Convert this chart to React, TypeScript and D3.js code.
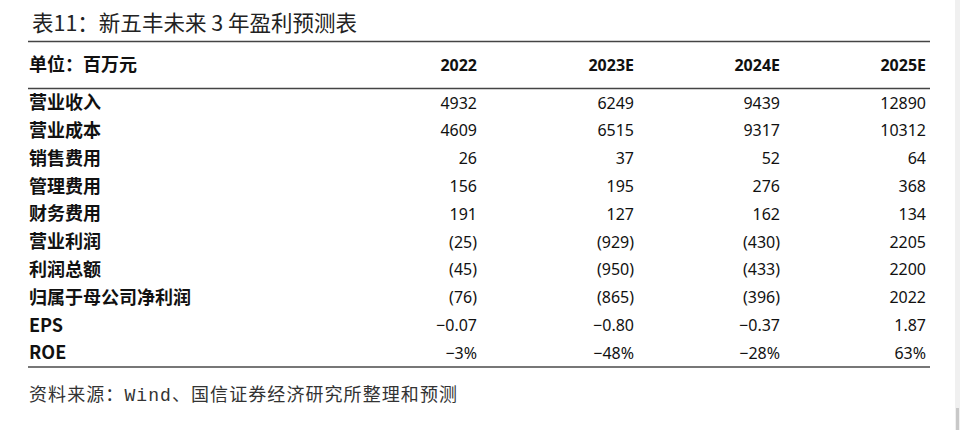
import * as d3 from "d3";
import React from "react";

const title = "表11：新五丰未来 3 年盈利预测表";
const unitLabel = "单位：百万元";
const years = ["2022", "2023E", "2024E", "2025E"];
const rowLabels = [
  "营业收入",
  "营业成本",
  "销售费用",
  "管理费用",
  "财务费用",
  "营业利润",
  "利润总额",
  "归属于母公司净利润",
  "EPS",
  "ROE",
];
const revenue = [4932, 6249, 9439, 12890];
const cost = [4609, 6515, 9317, 10312];
const sellingExp = [26, 37, 52, 64];
const adminExp = [156, 195, 276, 368];
const financeExp = [191, 127, 162, 134];
const opProfit = [-25, -929, -430, 2205];
const totalProfit = [-45, -950, -433, 2200];
const netProfit = [-76, -865, -396, 2022];
const eps = [-0.07, -0.8, -0.37, 1.87];
const roe = [-0.03, -0.48, -0.28, 0.63];
const sourceNote = ["资料来源：", "Wind", "、国信证券经济研究所整理和预测"];

// negatives in brackets, like the report does
const money = (v: number) => (v < 0 ? `(${Math.abs(v)})` : `${v}`);
const fmtEps = (v: number) => d3.format(".2f")(v);
const fmtPct = (v: number) => d3.format(".0%")(v);

const rowValues: string[][] = [
  revenue.map(money),
  cost.map(money),
  sellingExp.map(money),
  adminExp.map(money),
  financeExp.map(money),
  opProfit.map(money),
  totalProfit.map(money),
  netProfit.map(money),
  eps.map(fmtEps),
  roe.map(fmtPct),
];

const W = 960;
const H = 430;
const left = 29;
const right = 930;

export default function App() {
  const y = d3.scaleBand<string>().domain(rowLabels).range([89, 367]);
  const colRight = d3.scaleOrdinal<string, number>().domain(years).range([477, 634, 780, 926]);
  const cjk = "'Noto Sans CJK SC', 'Noto Sans', sans-serif";
  const num = "'Noto Sans', 'Liberation Sans', sans-serif";

  return (
    <svg
      width={W}
      height={H}
      style={{ position: "absolute", left: 0, top: 0, background: "#fff" }}
    >
      <rect x={955} y={0} width={5} height={H} fill="#f0f0f0" />
      <rect x={956} y={408} width={3} height={22} fill="#c8c8c8" />
      <text
        x={32}
        y={31}
        fontFamily={cjk}
        fontSize={21.5}
        fill="#222"
        textLength={325}
        lengthAdjust="spacing"
      >
        {title}
      </text>
      <line x1={left - 1} x2={right} y1={41.5} y2={41.5} stroke="#444" strokeWidth={1.5} />
      <text
        x={left}
        y={65}
        dy="0.35em"
        fontFamily={cjk}
        fontWeight="bold"
        fontSize={18}
        fill="#111"
      >
        {unitLabel}
      </text>
      {years.map((yr) => (
        <text
          key={yr}
          x={colRight(yr)}
          y={65}
          dy="0.35em"
          textAnchor="end"
          fontFamily={num}
          fontWeight="bold"
          fontSize={16}
          fill="#111"
        >
          {yr}
        </text>
      ))}
      <line x1={left - 1} x2={right} y1={88.5} y2={88.5} stroke="#444" strokeWidth={1.5} />
      {rowLabels.map((label, i) => {
        const cy = (y(label) ?? 0) + y.bandwidth() / 2;
        return (
          <g key={label}>
            <text
              x={left}
              y={cy}
              dy="0.35em"
              fontFamily={cjk}
              fontWeight="bold"
              fontSize={18}
              fill="#111"
            >
              {label}
            </text>
            {years.map((yr, j) => (
              <text
                key={yr}
                x={colRight(yr)}
                y={cy}
                dy="0.35em"
                textAnchor="end"
                fontFamily={num}
                fontSize={16}
                fill="#111"
              >
                {rowValues[i][j]}
              </text>
            ))}
          </g>
        );
      })}
      <line x1={left - 1} x2={right} y1={367} y2={367} stroke="#777" strokeWidth={2.2} />
      <text
        x={left}
        y={395}
        dy="0.35em"
        fontFamily={cjk}
        fontSize={18}
        fill="#333"
        textLength={428}
        lengthAdjust="spacing"
      >
        <tspan>{sourceNote[0]}</tspan>
        <tspan fontFamily="'Liberation Mono', monospace">{sourceNote[1]}</tspan>
        <tspan>{sourceNote[2]}</tspan>
      </text>
    </svg>
  );
}
